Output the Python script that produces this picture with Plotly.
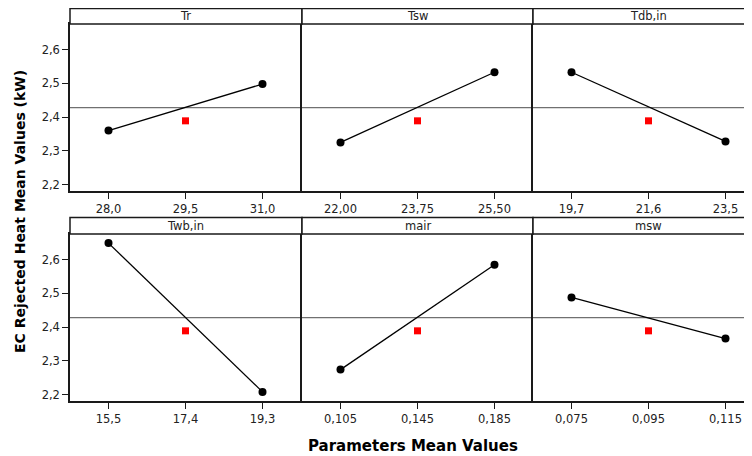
import plotly.graph_objects as go

# ---------------- data ----------------
factors = ["Tr", "Tsw", "Tdb,in", "Twb,in", "mair", "msw"]
levels_low = [28.0, 22.00, 19.7, 15.5, 0.105, 0.075]
levels_mid = [29.5, 23.75, 21.6, 17.4, 0.145, 0.095]
levels_high = [31.0, 25.50, 23.5, 19.3, 0.185, 0.115]
mean_low = [2.360, 2.325, 2.533, 2.649, 2.274, 2.488]
mean_high = [2.498, 2.533, 2.328, 2.208, 2.585, 2.366]
center_point_mean = [2.389, 2.389, 2.389, 2.389, 2.389, 2.389]
grand_mean = 2.428
tick_decimals = [1, 2, 1, 1, 3, 3]
y_ticks = [2.2, 2.3, 2.4, 2.5, 2.6]

# ---------------- layout geometry (page pixels) ----------------
OFF = 8  # default page body margin
W, H = 752 - OFF, 456 - OFF
col_px = [(70, 302), (302, 533), (533, 752)]
row_px = [(24, 191), (234, 401)]
strip_px = [(7.5, 24), (217.5, 234)]
step_px = 77.0
y_range = [2.181, 2.676]

def fx(px):
    return (px - OFF) / W

def fy(py):
    return 1 - (py - OFF) / H

FONT = "DejaVu Sans"
BORDER = "#1a1a1a"
TXT = "#222222"
TICK_SIZE = 11.5

fig = go.Figure()
shapes = []
annotations = []

for i, name in enumerate(factors):
    r, c = divmod(i, 3)
    ax = "" if i == 0 else str(i + 1)
    xa, ya = "x" + ax, "y" + ax
    x0p, x1p = col_px[c]
    y0p, y1p = row_px[r]
    lo, mid, hi = levels_low[i], levels_mid[i], levels_high[i]
    step = mid - lo
    nsteps = (x1p - x0p) / step_px
    xr = [lo - 0.5 * step, lo + (nsteps - 0.5) * step]

    # grand mean reference line across the panel
    fig.add_trace(go.Scatter(
        x=xr, y=[grand_mean, grand_mean], xaxis=xa, yaxis=ya, mode="lines",
        line=dict(color="#707070", width=1.2), hoverinfo="skip", showlegend=False,
        cliponaxis=False))
    # main effect line
    fig.add_trace(go.Scatter(
        x=[lo, hi], y=[mean_low[i], mean_high[i]], xaxis=xa, yaxis=ya,
        mode="lines+markers", line=dict(color="black", width=1.3),
        marker=dict(symbol="circle", size=8, color="black"), showlegend=False))
    # center point
    fig.add_trace(go.Scatter(
        x=[mid], y=[center_point_mean[i]], xaxis=xa, yaxis=ya, mode="markers",
        marker=dict(symbol="square", size=7, color="#ff0000"), showlegend=False))

    fmt = "." + str(tick_decimals[i]) + "f"
    xkey = "xaxis" + ax
    ykey = "yaxis" + ax
    fig.layout[xkey] = dict(
        domain=[fx(x0p), min(1.0, fx(x1p))], anchor=ya, range=xr,
        tickvals=[lo, mid, hi], tickformat=fmt,
        ticks="outside", ticklen=6, tickwidth=1.3, tickcolor=BORDER,
        showgrid=False, zeroline=False, showline=True, mirror=True,
        linecolor=BORDER, linewidth=1.5,
        tickfont=dict(family=FONT, size=TICK_SIZE, color=TXT))
    fig.layout[ykey] = dict(
        domain=[fy(y1p), fy(y0p)], anchor=xa, range=y_range,
        tickvals=y_ticks, tickformat=".1f",
        ticks="outside" if c == 0 else "", ticklen=6, tickwidth=1.3, tickcolor=BORDER,
        showticklabels=(c == 0),
        showgrid=False, zeroline=False, showline=True, mirror=False,
        linecolor=BORDER, linewidth=1.5,
        tickfont=dict(family=FONT, size=TICK_SIZE, color=TXT))

    # header strip
    s0, s1 = strip_px[r]
    shapes.append(dict(type="rect", xref="paper", yref="paper",
                       x0=fx(x0p), x1=fx(x1p) + (0.01 if c == 2 else 0),
                       y0=fy(s1), y1=min(fy(s0), 0.999),
                       line=dict(color=BORDER, width=1.5), fillcolor="white"))
    annotations.append(dict(text=name, xref="paper", yref="paper",
                            x=fx(x0p + 115.5), y=fy((s0 + s1) / 2),
                            showarrow=False, xanchor="center", yanchor="middle",
                            font=dict(family=FONT, size=TICK_SIZE, color=TXT)))

annotations.append(dict(text="<b>Parameters Mean Values</b>", xref="paper", yref="paper",
                        x=fx(413), y=fy(446), showarrow=False,
                        xanchor="center", yanchor="middle",
                        font=dict(family=FONT, size=15, color="black")))
annotations.append(dict(text="<b>EC Rejected Heat Mean Values (kW)</b>", xref="paper", yref="paper",
                        x=fx(20), y=fy(212), showarrow=False, textangle=-90,
                        xanchor="center", yanchor="middle",
                        font=dict(family=FONT, size=14, color="black")))

fig.update_layout(
    width=W, height=H, margin=dict(l=0, r=0, t=0, b=0),
    paper_bgcolor="white", plot_bgcolor="white",
    separators=",.", showlegend=False,
    shapes=shapes, annotations=annotations)

fig.write_html("out.html")
